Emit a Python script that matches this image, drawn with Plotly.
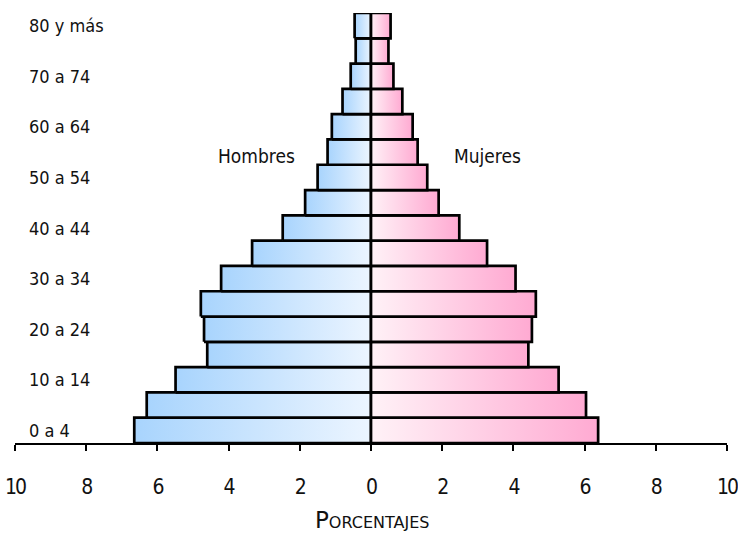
import plotly.graph_objects as go

age_groups = ["0 a 4", "5 a 9", "10 a 14", "15 a 19", "20 a 24", "25 a 29", "30 a 34",
              "35 a 39", "40 a 44", "45 a 49", "50 a 54", "55 a 59", "60 a 64",
              "65 a 69", "70 a 74", "75 a 79", "80 y más"]
hombres = [6.65, 6.30, 5.49, 4.60, 4.69, 4.78, 4.21, 3.34, 2.48, 1.85, 1.50, 1.22, 1.10,
           0.80, 0.57, 0.43, 0.46]
mujeres = [6.38, 6.04, 5.27, 4.42, 4.52, 4.63, 4.06, 3.26, 2.48, 1.90, 1.58, 1.31, 1.17,
           0.88, 0.63, 0.49, 0.55]
shown_labels = ["0 a 4", "10 a 14", "20 a 24", "30 a 34", "40 a 44", "50 a 54",
                "60 a 64", "70 a 74", "80 y más"]
x_ticks = [-10, -8, -6, -4, -2, 0, 2, 4, 6, 8, 10]

FONT = "DejaVu Sans, sans-serif"

BLUE_OUT, BLUE_IN = "#a8d4fd", "#ecf5ff"
PINK_IN, PINK_OUT = "#fff2f7", "#ffaad2"


def cond(t, spacing=None):
    extra = f";letter-spacing:{spacing}" if spacing else ""
    return f"<span style='font-stretch:condensed{extra}'>{t}</span>"


fig = go.Figure()

for i, (h, m) in enumerate(zip(hombres, mujeres)):
    y0, y1 = i - 0.5, i + 0.5
    fig.add_trace(go.Scatter(
        x=[-h, 0, 0, -h, -h], y=[y0, y0, y1, y1, y0],
        mode="lines", fill="toself",
        fillgradient=dict(type="horizontal",
                          colorscale=[[0, BLUE_OUT], [1, BLUE_IN]]),
        line=dict(color="black", width=2.7),
        name="Hombres", showlegend=False,
        hovertemplate=f"{age_groups[i]}: {h}%<extra>Hombres</extra>"))
    fig.add_trace(go.Scatter(
        x=[0, m, m, 0, 0], y=[y0, y0, y1, y1, y0],
        mode="lines", fill="toself",
        fillgradient=dict(type="horizontal",
                          colorscale=[[0, PINK_IN], [1, PINK_OUT]]),
        line=dict(color="black", width=2.7),
        name="Mujeres", showlegend=False,
        hovertemplate=f"{age_groups[i]}: {m}%<extra>Mujeres</extra>"))


def nfont(size):
    return dict(family=FONT, size=size, color="#111")


annotations = []
for lab in shown_labels:
    annotations.append(dict(x=-9.66, y=age_groups.index(lab), xref="x", yref="y",
                            text=cond(lab), showarrow=False, xanchor="left", yanchor="middle",
                            font=nfont(18)))
annotations.append(dict(x=-3.23, y=10.85, xref="x", yref="y", text=cond("Hombres"),
                        showarrow=False, font=nfont(19)))
annotations.append(dict(x=3.27, y=10.85, xref="x", yref="y", text=cond("Mujeres"),
                        showarrow=False, font=nfont(19)))
annotations.append(dict(x=0.05, y=-0.18, xref="x", yref="paper",
                        text="Porcentajes", borderpad=0,
                        showarrow=False, yanchor="middle",
                        font=dict(family=FONT, size=23, color="#111", variant="small-caps")))

fig.update_layout(
    width=738, height=537, autosize=False,
    margin=dict(l=15, r=11, t=13, b=94, autoexpand=False),
    plot_bgcolor="white", paper_bgcolor="white",
    annotations=annotations,
    xaxis=dict(range=[-10, 10], tickvals=x_ticks,
               ticktext=[cond(str(abs(v)), "-2px") for v in x_ticks],
               ticks="outside", ticklen=6, tickwidth=2, tickcolor="black",
               showline=True, linewidth=2, linecolor="black",
               showgrid=False, zeroline=False, automargin=False,
               ticklabelstandoff=18, ticklabeloverflow="allow",
               tickfont=nfont(21)),
    yaxis=dict(range=[-0.5, 16.5], showticklabels=False, showgrid=False,
               zeroline=False, showline=False, ticks="", automargin=False),
)

fig.write_html("out.html",
               config={"displayModeBar": False},
               post_script="document.body.style.margin='0';"
                           "document.body.style.overflow='hidden';")
